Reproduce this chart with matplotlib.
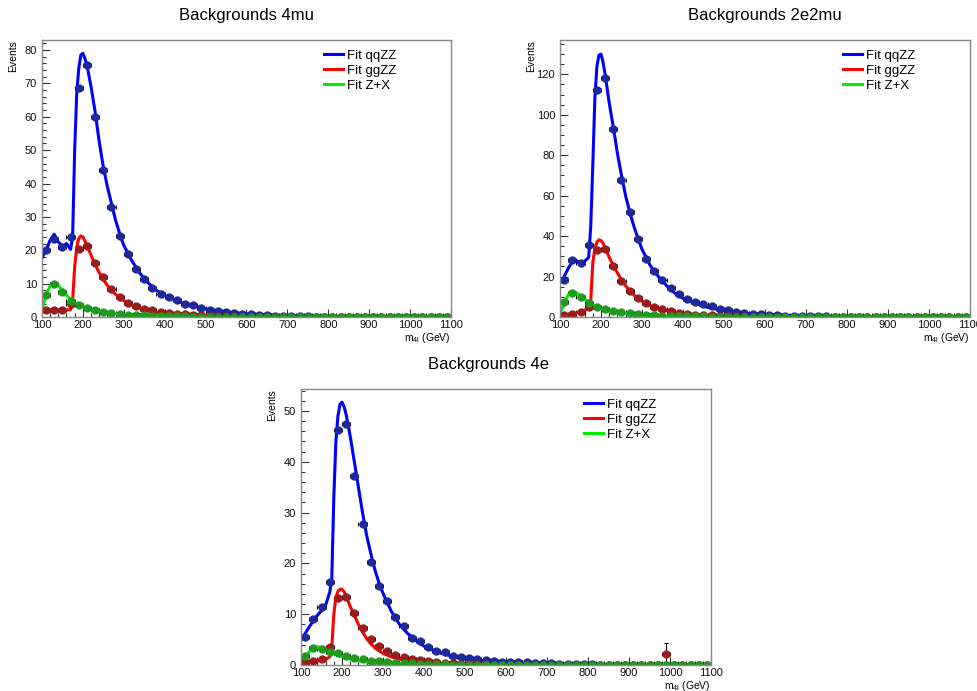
import numpy as np
import matplotlib.pyplot as plt
from matplotlib.ticker import MultipleLocator

plt.rcParams["font.family"] = ["Liberation Sans", "DejaVu Sans"]
plt.rcParams["mathtext.fontset"] = "custom"
plt.rcParams["mathtext.rm"] = "Liberation Sans"
plt.rcParams["mathtext.it"] = "Liberation Sans:italic"

# Centros dos bins de 20 GeV (100 a 1100)
centros = np.arange(110, 1100, 20)

# Pontos onde as curvas de ajuste foram lidas
x_curva = [100, 110, 120, 130, 140, 150, 160, 170, 175, 180,
           185, 190, 195, 200, 205, 210, 220, 230, 240, 250,
           260, 270, 280, 290, 300, 320, 340, 360, 380, 400,
           430, 460, 500, 550, 600, 650, 700, 800, 900, 1000,
           1100]

# ---- 4mu ----
mu4_qqzz = [20.2, 23.5, 21.0, 24.0, 68.7, 75.5, 60.0, 44.0, 33.0, 24.3,
            19.0, 14.5, 11.5, 8.8, 6.8, 6.0, 5.0, 4.0, 3.5, 2.8,
            2.2, 1.8, 1.6, 1.3, 1.0, 0.8, 0.7, 0.5, 0.4, 0.35,
            0.3, 0.25, 0.2, 0.15, 0.12, 0.1, 0.08, 0.06, 0.05, 0.04,
            0.03, 0.03, 0.02, 0.02, 0.01, 0.01, 0.01, 0.01, 0.0, 0.0]
mu4_ggzz = [2.0, 2.0, 2.1, 3.8, 20.5, 21.3, 16.3, 12.0, 8.5, 6.0,
            4.3, 3.3, 2.5, 2.0, 1.5, 1.2, 1.0, 0.8, 0.6, 0.5,
            0.4, 0.3, 0.25, 0.2, 0.15, 0.12, 0.1, 0.08, 0.06, 0.05,
            0.04, 0.03, 0.03, 0.02, 0.02, 0.01, 0.01, 0.01, 0.0, 0.0,
            0.0, 0.0, 0.0, 0.0, 0.0, 0.0, 0.0, 0.0, 0.0, 0.0]
mu4_zx = [6.5, 10.0, 7.5, 4.8, 3.5, 2.8, 2.0, 1.5, 1.2, 1.0,
          0.7, 0.6, 0.5, 0.4, 0.35, 0.3, 0.25, 0.2, 0.15, 0.12,
          0.1, 0.1, 0.08, 0.06, 0.05, 0.04, 0.04, 0.03, 0.03, 0.02,
          0.02, 0.02, 0.01, 0.01, 0.01, 0.01, 0.01, 0.0, 0.0, 0.0,
          0.0, 0.0, 0.0, 0.0, 0.0, 0.0, 0.0, 0.0, 0.0, 0.0]
mu4_fit_qqzz = [17.7, 20.0, 23.0, 24.8, 22.5, 21.2, 22.0, 20.3, 24.0, 50.0,
                67.0, 74.5, 78.5, 79.0, 77.5, 75.5, 69.0, 61.5, 52.5, 45.0,
                39.0, 34.0, 29.0, 25.0, 21.5, 16.8, 13.0, 10.2, 8.0, 6.5,
                4.8, 3.6, 2.4, 1.5, 0.95, 0.6, 0.4, 0.2, 0.1, 0.05,
                0.03]
mu4_fit_ggzz = [2.1, 2.1, 2.1, 2.1, 2.1, 2.1, 2.1, 2.2, 5.0, 15.0,
                21.0, 23.5, 24.3, 24.0, 22.8, 21.5, 18.5, 15.8, 13.3, 11.2,
                9.5, 8.0, 6.8, 5.8, 4.9, 3.6, 2.6, 1.9, 1.4, 1.1,
                0.8, 0.55, 0.35, 0.2, 0.12, 0.08, 0.05, 0.03, 0.02, 0.01,
                0.01]
mu4_fit_zx = [2.0, 6.5, 9.3, 10.3, 9.5, 8.0, 6.5, 5.3, 4.8, 4.3,
              3.9, 3.6, 3.3, 3.0, 2.8, 2.6, 2.2, 1.9, 1.6, 1.4,
              1.2, 1.05, 0.9, 0.8, 0.7, 0.55, 0.45, 0.38, 0.32, 0.27,
              0.22, 0.18, 0.14, 0.1, 0.08, 0.06, 0.05, 0.03, 0.02, 0.015,
              0.01]

# ---- 2e2mu ----
e2mu2_qqzz = [18.5, 28.3, 26.9, 35.4, 112.4, 118.0, 93.0, 68.0, 52.0, 38.4,
              28.8, 22.7, 18.5, 14.5, 11.2, 9.0, 7.4, 6.3, 5.3, 4.1,
              3.3, 2.5, 2.1, 1.6, 1.3, 1.1, 0.9, 0.7, 0.6, 0.5,
              0.4, 0.35, 0.3, 0.25, 0.2, 0.15, 0.12, 0.1, 0.08, 0.06,
              0.05, 0.04, 0.03, 0.03, 0.02, 0.02, 0.01, 0.01, 0.01, 0.0]
e2mu2_ggzz = [1.0, 1.5, 2.5, 5.0, 33.0, 33.5, 25.0, 18.0, 13.0, 9.5,
              6.7, 5.0, 3.8, 2.8, 2.1, 1.6, 1.2, 1.0, 0.8, 0.6,
              0.5, 0.4, 0.3, 0.25, 0.2, 0.15, 0.12, 0.1, 0.08, 0.06,
              0.05, 0.04, 0.03, 0.02, 0.02, 0.01, 0.01, 0.01, 0.0, 0.0,
              0.0, 0.0, 0.0, 0.0, 0.0, 0.0, 0.0, 0.0, 0.0, 0.0]
e2mu2_zx = [7.5, 12.0, 10.0, 7.0, 5.0, 4.0, 3.0, 2.5, 1.8, 1.5,
            1.2, 0.9, 0.7, 0.6, 0.5, 0.4, 0.35, 0.3, 0.25, 0.2,
            0.15, 0.12, 0.1, 0.08, 0.06, 0.05, 0.04, 0.03, 0.03, 0.02,
            0.02, 0.02, 0.01, 0.01, 0.01, 0.01, 0.0, 0.0, 0.0, 0.0,
            0.0, 0.0, 0.0, 0.0, 0.0, 0.0, 0.0, 0.0, 0.0, 0.0]
e2mu2_fit_qqzz = [17.0, 20.0, 24.0, 27.5, 27.8, 26.8, 27.6, 29.5, 45.0, 75.0,
                  108.0, 124.0, 129.5, 130.0, 126.0, 120.0, 106.0, 94.0, 81.0, 70.0,
                  60.0, 52.0, 45.0, 39.0, 33.5, 25.5, 20.0, 15.5, 11.8, 9.3,
                  6.7, 4.8, 3.2, 1.9, 1.2, 0.8, 0.55, 0.25, 0.12, 0.06,
                  0.03]
e2mu2_fit_ggzz = [0.6, 0.9, 1.2, 1.6, 2.1, 2.7, 3.4, 4.4, 8.0, 27.0,
                  34.0, 37.0, 38.2, 37.8, 36.5, 34.5, 29.5, 25.5, 21.8, 18.5,
                  15.5, 13.0, 11.0, 9.3, 7.8, 5.6, 4.1, 3.0, 2.2, 1.7,
                  1.2, 0.85, 0.55, 0.33, 0.2, 0.13, 0.08, 0.04, 0.02, 0.01,
                  0.01]
e2mu2_fit_zx = [1.6, 6.5, 11.0, 12.8, 12.0, 10.5, 9.0, 7.3, 6.6, 6.0,
                5.4, 4.9, 4.4, 4.0, 3.7, 3.4, 2.9, 2.5, 2.1, 1.8,
                1.6, 1.4, 1.2, 1.05, 0.95, 0.75, 0.6, 0.5, 0.42, 0.35,
                0.28, 0.22, 0.17, 0.12, 0.09, 0.07, 0.05, 0.03, 0.02, 0.015,
                0.01]

# ---- 4e ----
e4_qqzz = [5.6, 9.0, 11.5, 16.3, 46.2, 47.5, 37.2, 27.7, 20.3, 15.5,
           12.5, 9.4, 7.7, 5.4, 4.8, 3.6, 2.8, 2.5, 1.8, 1.5,
           1.3, 1.1, 1.0, 0.8, 0.65, 0.6, 0.5, 0.5, 0.4, 0.35,
           0.3, 0.25, 0.2, 0.2, 0.15, 0.12, 0.1, 0.1, 0.08, 0.06,
           0.05, 0.05, 0.04, 0.03, 0.03, 0.02, 0.02, 0.01, 0.01, 0.01]
e4_ggzz = [0.5, 0.7, 1.2, 3.5, 13.2, 13.3, 10.2, 7.3, 5.1, 3.7,
           2.7, 2.0, 1.5, 1.2, 0.9, 0.7, 0.5, 0.4, 0.3, 0.25,
           0.2, 0.15, 0.12, 0.1, 0.08, 0.06, 0.05, 0.04, 0.03, 0.03,
           0.02, 0.02, 0.01, 0.01, 0.01, 0.01, 0.0, 0.0, 0.0, 0.0,
           0.0, 0.0, 0.0, 0.0, 2.1, 0.0, 0.0, 0.0, 0.0, 0.0]
e4_ggzz_erro = [0.0] * 44 + [2.2] + [0.0] * 5
e4_zx = [1.8, 3.3, 3.2, 2.6, 2.3, 1.8, 1.4, 1.1, 0.8, 0.7,
         0.5, 0.4, 0.35, 0.3, 0.25, 0.2, 0.15, 0.12, 0.1, 0.08,
         0.06, 0.05, 0.04, 0.03, 0.03, 0.02, 0.02, 0.01, 0.01, 0.01,
         0.0, 0.0, 0.0, 0.0, 0.0, 0.0, 0.0, 0.0, 0.0, 0.0,
         0.0, 0.0, 0.0, 0.0, 0.0, 0.0, 0.0, 0.0, 0.0, 0.0]
e4_fit_qqzz = [4.9, 6.2, 7.5, 8.7, 9.8, 10.7, 11.8, 14.3, 17.0, 33.0,
               44.0, 49.0, 51.3, 51.7, 50.8, 49.3, 45.0, 40.0, 35.0, 30.0,
               25.5, 22.0, 18.8, 16.2, 14.1, 10.6, 8.0, 6.2, 4.8, 3.7,
               2.6, 1.9, 1.2, 0.8, 0.55, 0.38, 0.27, 0.14, 0.07, 0.04,
               0.02]
e4_fit_ggzz = [0.3, 0.4, 0.5, 0.65, 0.75, 0.9, 1.1, 1.6, 3.5, 10.0,
               13.3, 14.5, 14.9, 14.9, 14.4, 13.6, 11.5, 9.8, 8.0, 6.5,
               5.2, 4.2, 3.4, 2.8, 2.3, 1.6, 1.15, 0.85, 0.65, 0.5,
               0.35, 0.27, 0.18, 0.12, 0.08, 0.05, 0.035, 0.02, 0.01, 0.01,
               0.005]
e4_fit_zx = [0.6, 1.6, 2.6, 3.3, 3.6, 3.5, 3.2, 2.8, 2.6, 2.4,
             2.2, 2.0, 1.8, 1.65, 1.5, 1.4, 1.2, 1.0, 0.85, 0.72,
             0.62, 0.53, 0.46, 0.4, 0.35, 0.28, 0.22, 0.18, 0.15, 0.13,
             0.1, 0.08, 0.06, 0.045, 0.035, 0.025, 0.02, 0.01, 0.01, 0.005,
             0.005]

nomes = ["Fit qqZZ", "Fit ggZZ", "Fit Z+X"]
cores_pontos = ["#1c2a9c", "#9c1c1c", "#1f9a1f"]
cores_linhas = ["#0000ff", "#ff0000", "#00ee00"]


def desenha(ax, dados, fits, erros, ymax, passo, passo_menor):
    for i in range(3):
        ax.errorbar(centros, dados[i], xerr=10, yerr=erros[i], fmt="o",
                    ms=5, mfc=cores_pontos[i], mec=cores_pontos[i],
                    ecolor="black", elinewidth=0.7, capsize=1.3,
                    capthick=0.7)
        ax.plot(x_curva, fits[i], color=cores_linhas[i], lw=2.2,
                label=nomes[i])

    ax.set_xlim(100, 1100)
    ax.set_ylim(0, ymax)
    ax.xaxis.set_major_locator(MultipleLocator(100))
    ax.xaxis.set_minor_locator(MultipleLocator(20))
    ax.yaxis.set_major_locator(MultipleLocator(passo))
    ax.yaxis.set_minor_locator(MultipleLocator(passo_menor))
    ax.tick_params(which="both", direction="in", top=False, right=False,
                   color="#333333", labelsize=8, labelcolor="#111111")
    ax.tick_params(which="major", length=6, width=0.8)
    ax.tick_params(which="minor", length=3, width=0.8)
    ax.tick_params(axis="x", pad=2)
    for lado in ax.spines.values():
        lado.set_color("#888888")
        lado.set_linewidth(1.0)

    ax.set_xlabel(r"m$_{\mathrm{4l}}$ (GeV)", fontsize=7.5, loc="right")
    ax.xaxis.set_label_coords(1.0, -0.05)
    ax.set_ylabel("Events", fontsize=7.5, loc="top")
    ax.yaxis.set_label_coords(-0.058, 1.0)

    ax.legend(loc="upper left", bbox_to_anchor=(0.69, 0.965), frameon=False,
              fontsize=9.5, handlelength=1.45, handletextpad=0.3,
              labelspacing=0.2, borderpad=0, borderaxespad=0)


fig = plt.figure(figsize=(9.78, 6.91), dpi=100)

ax1 = fig.add_axes([0.0429, 0.5412, 0.4182, 0.4009])
desenha(ax1, [mu4_qqzz, mu4_ggzz, mu4_zx],
        [mu4_fit_qqzz, mu4_fit_ggzz, mu4_fit_zx],
        [None, None, None], 83, 10, 2)
fig.text(0.252, 0.977, "Backgrounds 4mu", ha="center", va="center", fontsize=12)

ax2 = fig.add_axes([0.5726, 0.5412, 0.4192, 0.4009])
desenha(ax2, [e2mu2_qqzz, e2mu2_ggzz, e2mu2_zx],
        [e2mu2_fit_qqzz, e2mu2_fit_ggzz, e2mu2_fit_zx],
        [None, None, None], 137, 20, 5)
fig.text(0.782, 0.977, "Backgrounds 2e2mu", ha="center", va="center", fontsize=12)

ax3 = fig.add_axes([0.3078, 0.0376, 0.4192, 0.3994])
desenha(ax3, [e4_qqzz, e4_ggzz, e4_zx],
        [e4_fit_qqzz, e4_fit_ggzz, e4_fit_zx],
        [None, e4_ggzz_erro, None], 54.3, 10, 2)
fig.text(0.5, 0.472, "Backgrounds 4e", ha="center", va="center", fontsize=12)

fig.savefig("out.png", dpi=100, facecolor="white")
